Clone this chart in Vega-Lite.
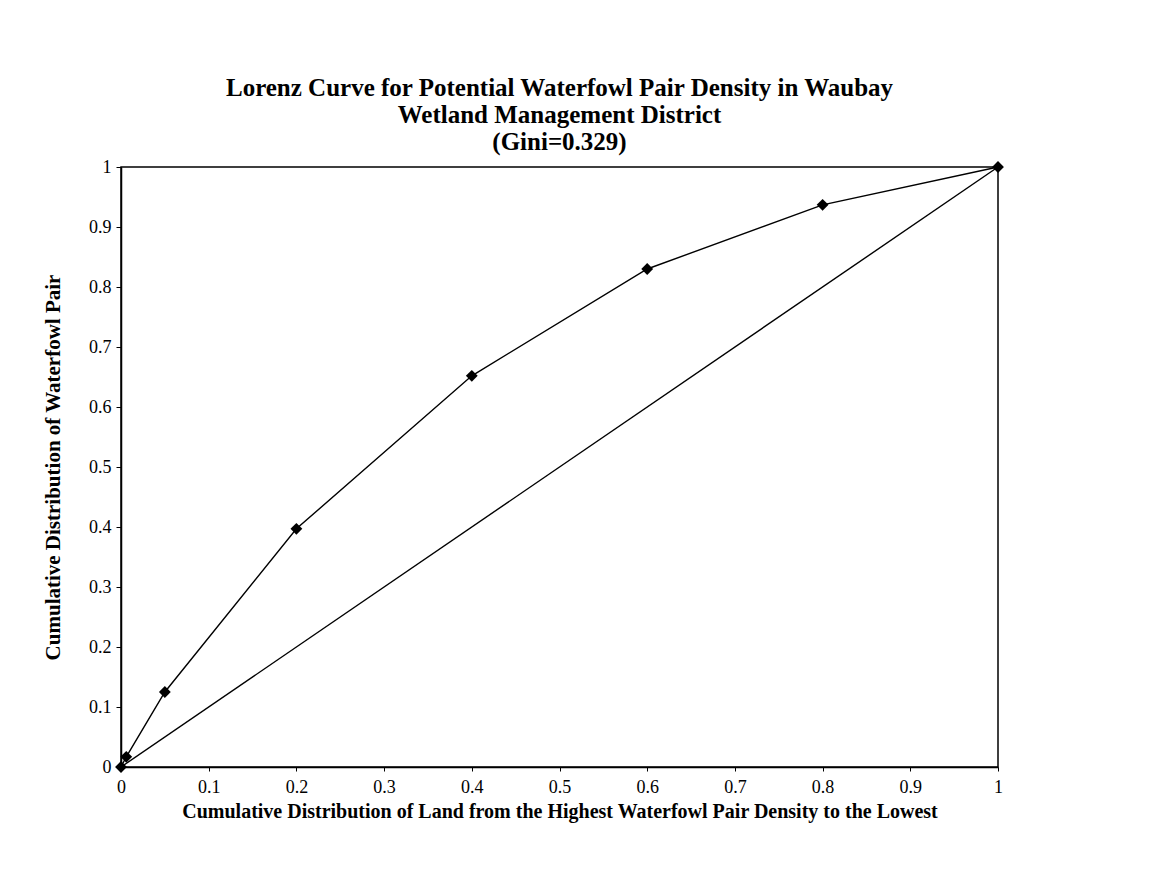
{
  "$schema": "https://vega.github.io/schema/vega-lite/v6.json",
  "width": 877,
  "height": 600,
  "autosize": "none",
  "padding": {"left": 121, "top": 167, "right": 177, "bottom": 112},
  "background": "white",
  "config": {
    "view": {"stroke": "black", "strokeWidth": 1.5},
    "font": "Liberation Serif"
  },
  "title": {
    "text": ["Lorenz Curve for Potential Waterfowl Pair Density in Waubay", "Wetland Management District", "(Gini=0.329)"],
    "font": "Liberation Serif",
    "fontSize": 25,
    "fontWeight": "bold",
    "color": "black",
    "anchor": "middle",
    "lineHeight": 27,
    "offset": 3
  },
  "datasets": {
    "lorenz": [
      {"land": 0, "pair": 0},
      {"land": 0.006, "pair": 0.017},
      {"land": 0.05, "pair": 0.125},
      {"land": 0.2, "pair": 0.397},
      {"land": 0.4, "pair": 0.652},
      {"land": 0.6, "pair": 0.83},
      {"land": 0.8, "pair": 0.937},
      {"land": 1, "pair": 1}
    ],
    "equality": [
      {"land": 0, "pair": 0},
      {"land": 1, "pair": 1}
    ]
  },
  "encoding": {
    "x": {
      "field": "land",
      "type": "quantitative",
      "scale": {"domain": [0, 1], "nice": false, "zero": true},
      "axis": {
        "title": "Cumulative Distribution of Land from the Highest Waterfowl Pair Density to the Lowest",
        "values": [0, 0.1, 0.2, 0.3, 0.4, 0.5, 0.6, 0.7, 0.8, 0.9, 1],
        "format": "~g",
        "grid": false,
        "domainColor": "black",
        "domainWidth": 1.5,
        "tickColor": "black",
        "tickSize": 4,
        "labelFont": "Liberation Serif",
        "labelFontSize": 18,
        "labelColor": "black",
        "labelPadding": 7,
        "labelFlush": false,
        "titleFont": "Liberation Serif",
        "titleFontSize": 20,
        "titleFontWeight": "bold",
        "titleColor": "black",
        "titlePadding": 5
      }
    },
    "y": {
      "field": "pair",
      "type": "quantitative",
      "scale": {"domain": [0, 1], "nice": false, "zero": true},
      "axis": {
        "title": "Cumulative Distribution of Waterfowl Pair",
        "values": [0, 0.1, 0.2, 0.3, 0.4, 0.5, 0.6, 0.7, 0.8, 0.9, 1],
        "format": "~g",
        "grid": false,
        "domainColor": "black",
        "domainWidth": 1.5,
        "tickColor": "black",
        "tickSize": 5,
        "labelFont": "Liberation Serif",
        "labelFontSize": 18,
        "labelColor": "black",
        "labelPadding": 5,
        "labelFlush": false,
        "titleFont": "Liberation Serif",
        "titleFontSize": 21,
        "titleFontWeight": "bold",
        "titleColor": "black",
        "titlePadding": 25
      }
    }
  },
  "layer": [
    {
      "data": {"name": "equality"},
      "mark": {"type": "line", "color": "black", "strokeWidth": 1.4}
    },
    {
      "data": {"name": "lorenz"},
      "mark": {"type": "line", "color": "black", "strokeWidth": 1.4}
    },
    {
      "data": {"name": "lorenz"},
      "mark": {"type": "point", "shape": "diamond", "filled": true, "color": "black", "size": 140, "opacity": 1}
    }
  ]
}
